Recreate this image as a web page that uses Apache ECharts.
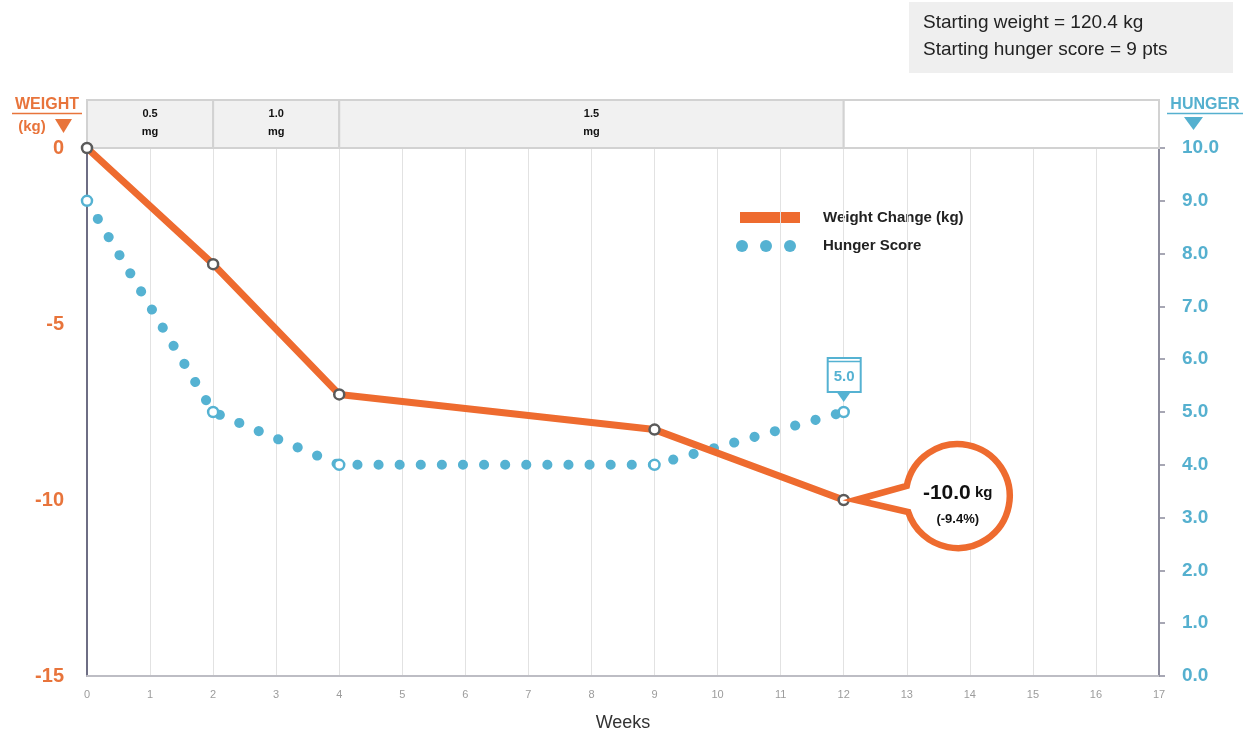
<!DOCTYPE html>
<html>
<head>
<meta charset="utf-8">
<title>Weight change and hunger score</title>
<script src="https://cdn.jsdelivr.net/npm/echarts@6/dist/echarts.min.js"></script>
<style>
  html, body { margin: 0; padding: 0; background: #ffffff; }
  #chart { width: 1252px; height: 737px; }
</style>
</head>
<body>
<div id="chart"></div>
<script>
// Measurement weeks and the values recorded at each of them
const weeks = [0, 2, 4, 9, 12];
const weightChange = [0, -3.3, -7.0, -8.0, -10.0];   // kg
const hungerScore = [9.0, 5.0, 4.0, 4.0, 5.0];       // pts

// Dose schedule shown in the band above the plot
const doseStart = [0, 2, 4, 12];
const doseEnd = [2, 4, 12, 17];
const doseLabels = ['0.5\nmg', '1.0\nmg', '1.5\nmg', ''];

// Axis ticks
const weightTicks = [0, -5, -10, -15];
const hungerTicks = [0, 1, 2, 3, 4, 5, 6, 7, 8, 9, 10];

// Summary figures
const startWeightKg = 120.4;
const weightPctLabel = '-9.4%';

const FONT = '"Liberation Sans", Arial, Helvetica, sans-serif';
const NARROW = '"Liberation Sans Narrow", "Liberation Sans", Arial, sans-serif';
const ORANGE = '#ee6b2f';
const ORANGE_TXT = '#e8743b';
const BLUE = '#55b2d2';
const BLUE_TXT = '#55b0cf';

const chart = echarts.init(document.getElementById('chart'), null, { renderer: 'canvas' });

function pairs(xs, ys) { return xs.map((x, i) => [x, ys[i]]); }

// Dose band cells
function renderDose(params, api) {
  const i = api.value(2);
  const a = api.coord([api.value(0), 1]);
  const b = api.coord([api.value(1), 0]);
  const filled = doseLabels[i] !== '';
  return {
    type: 'group',
    children: [
      {
        type: 'rect',
        shape: { x: a[0], y: a[1], width: b[0] - a[0], height: b[1] - a[1] },
        style: { fill: filled ? '#f1f1f1' : '#ffffff', stroke: '#d2d2d2', lineWidth: 2 }
      },
      {
        type: 'text',
        style: {
          text: doseLabels[i],
          x: (a[0] + b[0]) / 2, y: (a[1] + b[1]) / 2 - 1,
          align: 'center', verticalAlign: 'middle',
          font: 'bold 11px ' + FONT, fill: '#111', lineHeight: 18
        }
      }
    ]
  };
}

// Round callout with a pointer for the latest weight change
function renderWeightCallout(params, api) {
  const v = api.value(1);
  const p = api.coord([api.value(0), v]);
  const cx = p[0] + 114, cy = p[1] - 4, r = 52;
  const tipX = p[0] + 12, tipY = p[1];
  const a1 = { x: cx - 51, y: cy - 10 };
  const a2 = { x: cx - 49.5, y: cy + 16 };
  const d = 'M' + tipX + ' ' + tipY +
            ' L' + a1.x + ' ' + a1.y +
            ' A' + r + ' ' + r + ' 0 1 1 ' + a2.x + ' ' + a2.y + ' Z';
  return {
    type: 'group',
    children: [
      {
        type: 'path',
        shape: { pathData: d },
        style: { fill: '#ffffff', stroke: ORANGE, lineWidth: 6.5, lineJoin: 'miter' }
      },
      {
        type: 'text',
        style: {
          text: '{n|' + v.toFixed(1) + '}{u| kg}',
          x: cx, y: cy - 3,
          align: 'center', verticalAlign: 'middle',
          fill: '#111',
          rich: {
            n: { font: 'bold 21px ' + FONT, fill: '#111' },
            u: { font: 'bold 15px ' + FONT, fill: '#111' }
          }
        }
      },
      {
        type: 'text',
        style: {
          text: '(' + weightPctLabel + ')',
          x: cx, y: cy + 23,
          align: 'center', verticalAlign: 'middle',
          font: 'bold 13px ' + FONT, fill: '#111'
        }
      }
    ]
  };
}

// Tag with pointer for the latest hunger score
function renderHungerTag(params, api) {
  const v = api.value(1);
  const p = api.coord([api.value(0), v]);
  const x0 = p[0] - 16, y0 = p[1] - 54, w = 33, h = 34;
  return {
    type: 'group',
    children: [
      {
        type: 'rect',
        shape: { x: x0, y: y0, width: w, height: h },
        style: { fill: '#ffffff', stroke: BLUE, lineWidth: 2 }
      },
      {
        type: 'line',
        shape: { x1: x0, y1: y0 + 3.5, x2: x0 + w, y2: y0 + 3.5 },
        style: { stroke: BLUE, lineWidth: 1.5 }
      },
      {
        type: 'polygon',
        shape: { points: [[p[0] - 7, y0 + h], [p[0] + 7, y0 + h], [p[0], y0 + h + 10]] },
        style: { fill: BLUE }
      },
      {
        type: 'text',
        style: {
          text: v.toFixed(1),
          x: p[0] + 0.5, y: y0 + h / 2 + 2,
          align: 'center', verticalAlign: 'middle',
          font: 'bold 15px ' + FONT, fill: BLUE
        }
      }
    ]
  };
}

const option = {
  animation: false,
  backgroundColor: '#ffffff',
  grid: [
    { left: 87, right: 93, top: 148, bottom: 55 },
    { left: 87, right: 93, top: 100, height: 48 }
  ],
  xAxis: [
    {
      gridIndex: 0, type: 'value', min: 0, max: 17, interval: 1,
      axisLine: { onZero: false, lineStyle: { color: '#bdbdc4', width: 2 } },
      axisTick: { show: false },
      axisLabel: { color: '#9c9c9c', fontSize: 11, fontFamily: NARROW, margin: 13 },
      splitLine: { show: true, lineStyle: { color: '#e2e2e2', width: 1 } },
      name: 'Weeks', nameLocation: 'middle', nameGap: 38,
      nameTextStyle: { color: '#333333', fontSize: 18, fontFamily: FONT }
    },
    { gridIndex: 1, type: 'value', min: 0, max: 17, show: false }
  ],
  yAxis: [
    {
      gridIndex: 0, type: 'value', position: 'left',
      min: weightTicks[weightTicks.length - 1], max: weightTicks[0], interval: 5,
      axisLine: { show: true, onZero: false, lineStyle: { color: '#6e6e84', width: 2 } },
      axisTick: { show: false },
      axisLabel: { color: ORANGE_TXT, fontSize: 20, fontWeight: 'bold', fontFamily: FONT, margin: 23 },
      splitLine: { show: false }
    },
    {
      gridIndex: 0, type: 'value', position: 'right',
      min: hungerTicks[0], max: hungerTicks[hungerTicks.length - 1], interval: 1,
      axisLine: { show: true, onZero: false, lineStyle: { color: '#8b8b9c', width: 2 } },
      axisTick: { show: true, length: 6, lineStyle: { color: '#8b8b9c', width: 1.5 } },
      axisLabel: {
        color: BLUE_TXT, fontSize: 19, fontWeight: 'bold', fontFamily: FONT, margin: 23,
        formatter: v => v.toFixed(1)
      },
      splitLine: { show: false }
    },
    { gridIndex: 1, type: 'value', min: 0, max: 1, show: false }
  ],
  graphic: [
    // summary box
    { type: 'rect', shape: { x: 909, y: 2, width: 324, height: 71 }, style: { fill: '#efefef' }, silent: true },
    {
      type: 'text', x: 923, y: 23,
      style: { text: 'Starting weight = ' + startWeightKg + ' kg', font: '19px ' + FONT, fill: '#222',
               align: 'left', verticalAlign: 'middle', textAlign: 'left', textVerticalAlign: 'middle' }
    },
    {
      type: 'text', x: 923, y: 50,
      style: { text: 'Starting hunger score = ' + hungerScore[0] + ' pts', font: '19px ' + FONT, fill: '#222',
               align: 'left', verticalAlign: 'middle', textAlign: 'left', textVerticalAlign: 'middle' }
    },
    // left axis header
    {
      type: 'text', x: 47, y: 105,
      style: { text: 'WEIGHT', font: 'bold 16px ' + FONT, fill: ORANGE_TXT,
               align: 'center', verticalAlign: 'middle', textAlign: 'center', textVerticalAlign: 'middle' }
    },
    { type: 'line', shape: { x1: 12, y1: 113.5, x2: 82, y2: 113.5 }, style: { stroke: ORANGE_TXT, lineWidth: 1.5 } },
    {
      type: 'text', x: 32, y: 127,
      style: { text: '(kg)', font: 'bold 15px ' + FONT, fill: ORANGE_TXT,
               align: 'center', verticalAlign: 'middle', textAlign: 'center', textVerticalAlign: 'middle' }
    },
    { type: 'polygon', shape: { points: [[55, 119], [72, 119], [63.5, 133]] }, style: { fill: ORANGE_TXT } },
    // right axis header
    {
      type: 'text', x: 1205, y: 105,
      style: { text: 'HUNGER', font: 'bold 16px ' + FONT, fill: BLUE_TXT,
               align: 'center', verticalAlign: 'middle', textAlign: 'center', textVerticalAlign: 'middle' }
    },
    { type: 'line', shape: { x1: 1167, y1: 113.5, x2: 1243, y2: 113.5 }, style: { stroke: BLUE_TXT, lineWidth: 1.5 } },
    { type: 'polygon', shape: { points: [[1184, 117], [1203, 117], [1193.5, 130]] }, style: { fill: BLUE_TXT } },
    // legend
    { type: 'rect', shape: { x: 740, y: 212, width: 60, height: 11 }, style: { fill: ORANGE } },
    {
      type: 'text', x: 823, y: 218,
      style: { text: 'Weight Change (kg)', font: 'bold 15px ' + FONT, fill: '#222',
               align: 'left', verticalAlign: 'middle', textAlign: 'left', textVerticalAlign: 'middle' }
    },
    { type: 'circle', shape: { cx: 742, cy: 246, r: 6 }, style: { fill: BLUE } },
    { type: 'circle', shape: { cx: 766, cy: 246, r: 6 }, style: { fill: BLUE } },
    { type: 'circle', shape: { cx: 790, cy: 246, r: 6 }, style: { fill: BLUE } },
    {
      type: 'text', x: 823, y: 246,
      style: { text: 'Hunger Score', font: 'bold 15px ' + FONT, fill: '#222',
               align: 'left', verticalAlign: 'middle', textAlign: 'left', textVerticalAlign: 'middle' }
    }
  ],
  series: [
    {
      name: 'Dose', type: 'custom', xAxisIndex: 1, yAxisIndex: 2, silent: true,
      encode: { x: [0, 1] },
      data: doseStart.map((s, i) => [s, doseEnd[i], i]),
      renderItem: renderDose
    },
    {
      name: 'Hunger Score', type: 'line', xAxisIndex: 0, yAxisIndex: 1,
      data: pairs(weeks, hungerScore),
      symbol: 'circle', symbolSize: 10, z: 3,
      lineStyle: { color: BLUE, width: 10, type: [0.1, 21], cap: 'round' },
      itemStyle: { color: '#ffffff', borderColor: BLUE, borderWidth: 2.5 }
    },
    {
      name: 'Weight Change (kg)', type: 'line', xAxisIndex: 0, yAxisIndex: 0,
      data: pairs(weeks, weightChange),
      symbol: 'circle', symbolSize: 10, z: 4,
      lineStyle: { color: ORANGE, width: 7 },
      itemStyle: { color: '#ffffff', borderColor: '#5a5a5a', borderWidth: 2.5 }
    },
    {
      name: 'Weight callout', type: 'custom', xAxisIndex: 0, yAxisIndex: 0, silent: true, z: 6,
      data: [[weeks[weeks.length - 1], weightChange[weightChange.length - 1]]],
      renderItem: renderWeightCallout
    },
    {
      name: 'Hunger tag', type: 'custom', xAxisIndex: 0, yAxisIndex: 1, silent: true, z: 6,
      data: [[weeks[weeks.length - 1], hungerScore[hungerScore.length - 1]]],
      renderItem: renderHungerTag
    }
  ]
};

chart.setOption(option);
</script>
</body>
</html>
